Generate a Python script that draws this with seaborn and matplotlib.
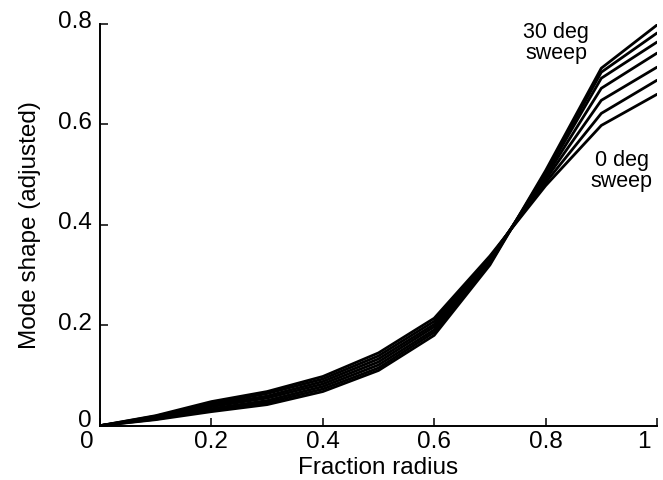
import numpy as np
import pandas as pd
import matplotlib
matplotlib.use("Agg")
import matplotlib.pyplot as plt
import matplotlib.transforms as mtransforms
import seaborn as sns

# Radial stations (fraction of blade radius)
fraction_radius = [0.0, 0.1, 0.2, 0.3, 0.4, 0.5, 0.6, 0.7, 0.8, 0.9, 1.0]

# Adjusted mode shape for each sweep angle
sweep_deg = [0, 5, 10, 15, 20, 25, 30]
mode_0 = [0.0, 0.020, 0.048, 0.068, 0.098, 0.145, 0.214, 0.338, 0.478, 0.598, 0.660]
mode_5 = [0.0, 0.019, 0.044, 0.064, 0.093, 0.139, 0.208, 0.335, 0.484, 0.622, 0.688]
mode_10 = [0.0, 0.017, 0.041, 0.059, 0.088, 0.133, 0.202, 0.333, 0.490, 0.648, 0.714]
mode_15 = [0.0, 0.016, 0.038, 0.055, 0.083, 0.127, 0.197, 0.330, 0.495, 0.672, 0.742]
mode_20 = [0.0, 0.015, 0.034, 0.050, 0.078, 0.121, 0.191, 0.327, 0.500, 0.692, 0.764]
mode_25 = [0.0, 0.013, 0.031, 0.046, 0.073, 0.115, 0.186, 0.323, 0.504, 0.704, 0.782]
mode_30 = [0.0, 0.012, 0.028, 0.042, 0.068, 0.110, 0.180, 0.320, 0.508, 0.712, 0.798]

x_ticks = [0, 0.2, 0.4, 0.6, 0.8, 1]
x_tick_labels = ["0", "0.2", "0.4", "0.6", "0.8", "1"]
y_ticks = [0, 0.2, 0.4, 0.6, 0.8]
y_tick_labels = ["0", "0.2", "0.4", "0.6", "0.8"]

curves = [mode_0, mode_5, mode_10, mode_15, mode_20, mode_25, mode_30]
df = pd.concat(
    [pd.DataFrame({"r": fraction_radius, "mode": vals, "sweep": s})
     for s, vals in zip(sweep_deg, curves)],
    ignore_index=True,
)

sns.set_style("ticks")
plt.rcParams["font.family"] = ["Liberation Sans", "DejaVu Sans"]
plt.rcParams["text.color"] = "black"
plt.rcParams["axes.labelcolor"] = "black"

fig = plt.figure(figsize=(6.63, 4.80), dpi=100)
ax = fig.add_axes([100 / 663, 1 - 425.7 / 480, 557 / 663, 401.7 / 480])

sns.lineplot(
    data=df, x="r", y="mode", hue="sweep", units="sweep", estimator=None,
    palette=["black"] * len(sweep_deg), linewidth=2.0, legend=False, ax=ax,
    sort=False,
)

ax.set_xlim(0, 1)
ax.set_ylim(0, 0.8)
ax.set_xticks(x_ticks)
ax.set_xticklabels(x_tick_labels)
ax.set_yticks(y_ticks)
ax.set_yticklabels(y_tick_labels)
ax.tick_params(direction="in", length=6, width=1.1, labelsize=17.5, color="black",
               labelcolor="black")
ax.tick_params(axis="x", pad=4)
ax.tick_params(axis="y", pad=6)

for side in ("top", "right"):
    ax.spines[side].set_visible(False)
for side in ("left", "bottom"):
    ax.spines[side].set_linewidth(1.4)
    ax.spines[side].set_color("black")

ax.set_xlabel("Fraction radius", fontsize=17.5, labelpad=3)
ax.set_ylabel("Mode shape (adjusted)", fontsize=17.5, labelpad=12)

# nudge end tick labels
def shift(label, dx, dy):
    label.set_transform(label.get_transform()
                        + mtransforms.ScaledTranslation(dx / 100, dy / 100, fig.dpi_scale_trans))

xl = ax.get_xticklabels()
shift(xl[0], -13, 0)
shift(xl[-1], -13, 0)
yl = ax.get_yticklabels()
for lab in yl[1:]:
    shift(lab, 0, 4)
shift(yl[0], 0, 7)

ax.text(0.819, 0.762, "30 deg\nsweep", ha="center", va="center", fontsize=15.5,
        linespacing=1.0)
ax.text(0.937, 0.507, "0 deg\nsweep", ha="center", va="center", fontsize=15.5,
        linespacing=1.0)

fig.savefig("out.png", dpi=100)
